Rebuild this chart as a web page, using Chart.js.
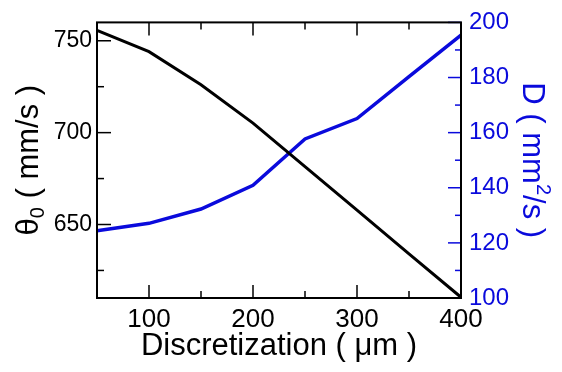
<!DOCTYPE html>
<html lang="en">
<head>
    <meta charset="UTF-8">
    <title>Discretization</title>
    <style>
        body { margin: 0; background: #fff; }
    </style>
</head>
<body>
    <canvas id="myChart" width="562" height="372"></canvas>

    <script src="https://cdn.jsdelivr.net/npm/chart.js"></script>

    <script>
    // values
    const discretization = [50, 100, 150, 200, 250, 300, 350, 400]
    const theta0 = [755.7, 744.1, 726.1, 705.2, 681.5, 657.8, 634.0, 610.4]
    const diffusion = [124.4, 127.1, 132.3, 140.9, 157.7, 165.1, 180.3, 195.4]

    const xTicks = [100, 200, 300, 400]
    const xMinor = [150, 250, 350]
    const thetaTicks = [650, 700, 750]
    const thetaMinor = [625, 675, 725]
    const dTicks = [100, 120, 140, 160, 180, 200]
    const dMinor = [110, 130, 150, 170, 190]

    const BLUE = '#0a0adc'
    const FONT = "'Liberation Sans', Arial, sans-serif"

    const ctx = document.getElementById('myChart')

    // frame, inward ticks and axis titles
    const framePlugin = {
        id: 'frame',
        afterDatasetsDraw(chart) {
            const c = chart.ctx
            const a = chart.chartArea
            const sx = chart.scales.x, sy = chart.scales.y, sy2 = chart.scales.y2
            const seg = (x1, y1, x2, y2) => { c.beginPath(); c.moveTo(x1, y1); c.lineTo(x2, y2); c.stroke() }
            c.save()
            c.lineWidth = 1.5
            c.strokeStyle = '#000'
            xTicks.forEach(v => {
                const p = sx.getPixelForValue(v)
                seg(p, a.bottom, p, a.bottom - 13)
                seg(p, a.top, p, a.top + 13)
            })
            xMinor.forEach(v => {
                const p = sx.getPixelForValue(v)
                seg(p, a.bottom, p, a.bottom - 7)
                seg(p, a.top, p, a.top + 7)
            })
            thetaTicks.forEach(v => { const p = sy.getPixelForValue(v); seg(a.left, p, a.left + 14, p) })
            thetaMinor.forEach(v => { const p = sy.getPixelForValue(v); seg(a.left, p, a.left + 7, p) })
            c.strokeStyle = BLUE
            dTicks.forEach(v => { const p = sy2.getPixelForValue(v); seg(a.right, p, a.right - 13, p) })
            dMinor.forEach(v => { const p = sy2.getPixelForValue(v); seg(a.right, p, a.right - 6, p) })

            c.lineWidth = 2
            c.strokeStyle = '#000'
            c.strokeRect(a.left, a.top, a.right - a.left, a.bottom - a.top)

            // x title
            c.fillStyle = '#000'
            c.font = '31px ' + FONT
            c.textAlign = 'center'
            c.textBaseline = 'alphabetic'
            c.fillText('Discretization ( \u03bcm )', (a.left + a.right) / 2, 355)

            const midY = (a.top + a.bottom) / 2
            c.textAlign = 'left'

            // left title: θ0 ( mm/s )
            const big = '31px ' + FONT, small = '20px ' + FONT
            c.font = big
            const w1 = c.measureText('\u03b8').width
            const w3 = c.measureText(' ( mm/s )').width
            c.font = small
            const w2 = c.measureText('0').width
            c.save()
            c.translate(38, midY)
            c.rotate(-Math.PI / 2)
            let x0 = -(w1 + w2 + w3) / 2
            c.font = big
            c.fillText('\u03b8', x0, 0)
            c.font = small
            c.fillText('0', x0 + w1, 6)
            c.font = big
            c.fillText(' ( mm/s )', x0 + w1 + w2, 0)
            c.restore()

            // right title: D ( mm2/s )
            c.font = big
            const r1 = c.measureText('D ( mm').width
            const r3 = c.measureText('/s )').width
            c.font = small
            const r2 = c.measureText('2').width
            c.save()
            c.fillStyle = BLUE
            c.translate(523, midY)
            c.rotate(Math.PI / 2)
            x0 = -(r1 + r2 + r3) / 2
            c.font = big
            c.fillText('D ( mm', x0, 0)
            c.font = small
            c.fillText('2', x0 + r1, -14)
            c.font = big
            c.fillText('/s )', x0 + r1 + r2, 0)
            c.restore()
            c.restore()
        }
    }

    const chartData = {
        datasets: [
            {
                label: 'theta0',
                data: discretization.map((x, i) => ({ x: x, y: theta0[i] })),
                borderColor: '#000',
                borderWidth: 3,
                pointRadius: 0,
                yAxisID: 'y',
                clip: false,
            },
            {
                label: 'D',
                data: discretization.map((x, i) => ({ x: x, y: diffusion[i] })),
                borderColor: BLUE,
                borderWidth: 3.5,
                pointRadius: 0,
                yAxisID: 'y2',
                clip: false,
            },
        ],
    }

    const chartConfig = {
        type: 'line',
        data: chartData,
        options: {
            responsive: false,
            animation: false,
            devicePixelRatio: 1,
            layout: { padding: { top: 19, left: 0, right: 0, bottom: 0 } },
            plugins: {
                legend: { display: false },
                tooltip: { enabled: false },
            },
            scales: {
                x: {
                    type: 'linear',
                    min: 50,
                    max: 400,
                    afterBuildTicks: s => { s.ticks = xTicks.map(v => ({ value: v })) },
                    afterFit: s => { s.height = 74 },
                    grid: { display: false, drawTicks: false },
                    border: { display: false },
                    ticks: {
                        color: '#000',
                        padding: 6,
                        maxRotation: 0,
                        font: { family: FONT, size: 26 },
                    },
                },
                y: {
                    position: 'left',
                    min: 610,
                    max: 760,
                    afterBuildTicks: s => { s.ticks = thetaTicks.map(v => ({ value: v })) },
                    afterFit: s => { s.width = 97 },
                    grid: { display: false, drawTicks: false },
                    border: { display: false },
                    ticks: {
                        color: '#000',
                        padding: 5,
                        font: { family: FONT, size: 23 },
                    },
                },
                y2: {
                    position: 'right',
                    min: 100,
                    max: 200,
                    afterBuildTicks: s => { s.ticks = dTicks.map(v => ({ value: v })) },
                    afterFit: s => { s.width = 101 },
                    grid: { display: false, drawTicks: false },
                    border: { display: false },
                    ticks: {
                        color: BLUE,
                        padding: 8,
                        font: { family: FONT, size: 24 },
                    },
                },
            },
        },
        plugins: [framePlugin],
    }

    const myChart = new Chart(ctx, chartConfig)
    </script>
</body>
</html>
